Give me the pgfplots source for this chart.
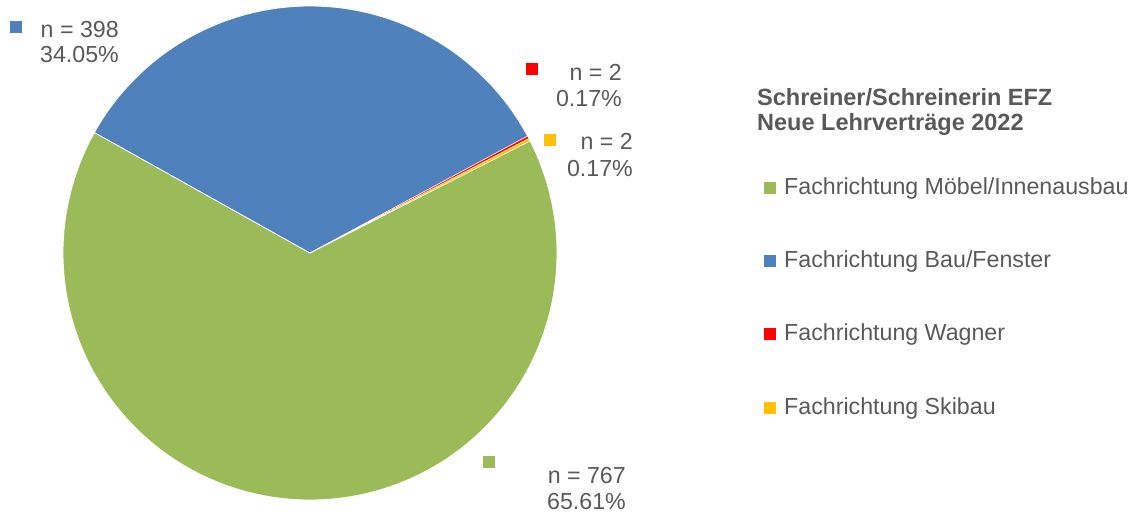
\documentclass[border=0pt]{standalone}
\usepackage{pgfplots}
\pgfplotsset{compat=1.18}
\usepackage{fontspec}
\setmainfont{Liberation Sans}
\definecolor{cgreen}{HTML}{9BBB59}
\definecolor{cblue}{HTML}{4F81BD}
\definecolor{cred}{HTML}{FF0000}
\definecolor{cyellow}{HTML}{FFC000}
\definecolor{txt}{HTML}{595959}
% counts
\def\nMoebel{767}
\def\nBau{398}
\def\nWagner{2}
\def\nSki{2}
\pgfmathsetmacro{\total}{\nMoebel+\nBau+\nWagner+\nSki}
\pgfmathsetmacro{\aG}{\nMoebel/\total*360}
\pgfmathsetmacro{\aB}{\nBau/\total*360}
\pgfmathsetmacro{\aR}{\nWagner/\total*360}
\pgfmathsetmacro{\aY}{\nSki/\total*360}
\pgfmathsetmacro{\sY}{150.8-\aB-\aR-\aY}% end of green / start of yellow
\pgfmathsetmacro{\gA}{\sY-\aG}
\pgfmathsetmacro{\yB}{\sY+\aY}
\pgfmathsetmacro{\rB}{\yB+\aR}
\pgfmathsetmacro{\bB}{\rB+\aB}
\def\cx{310}\def\cy{266}\def\rr{247}
\begin{document}
\fontsize{23.2}{28}\selectfont
\begin{tikzpicture}[
  lbl/.style={text=txt, inner sep=0pt, font=\fontsize{23.2}{28}\selectfont},
  ttl/.style={text=txt, inner sep=0pt, font=\fontsize{23.5}{28}\selectfont\bfseries},
]
\begin{axis}[
  width=1141pt, height=519pt, scale only axis,
  xmin=0, xmax=1141, ymin=0, ymax=519,
  hide axis, clip=false,
]
\path (axis cs:0,0) rectangle (axis cs:1141,519);
\addplot[fill=cgreen, draw=white, line width=0.8pt, domain=\gA:\sY, samples=160, variable=\t]
  ({\cx+\rr*cos(\t)}, {\cy+\rr*sin(\t)}) -- (axis cs:\cx,\cy) -- cycle;
\addplot[fill=cblue, draw=white, line width=0.8pt, domain=\rB:\bB, samples=100, variable=\t]
  ({\cx+\rr*cos(\t)}, {\cy+\rr*sin(\t)}) -- (axis cs:\cx,\cy) -- cycle;
\addplot[fill=cred, draw=white, line width=0.4pt, domain=\yB:\rB, samples=3, variable=\t]
  ({\cx+\rr*cos(\t)}, {\cy+\rr*sin(\t)}) -- (axis cs:\cx,\cy) -- cycle;
\addplot[fill=cyellow, draw=white, line width=0.4pt, domain=\sY:\yB, samples=3, variable=\t]
  ({\cx+\rr*cos(\t)}, {\cy+\rr*sin(\t)}) -- (axis cs:\cx,\cy) -- cycle;
% data label keys
\addplot[only marks, mark=square*, mark size=5.5pt, color=cblue] coordinates {(16,492)};
\addplot[only marks, mark=square*, mark size=5.5pt, color=cred] coordinates {(532,450)};
\addplot[only marks, mark=square*, mark size=5.5pt, color=cyellow] coordinates {(550,379)};
\addplot[only marks, mark=square*, mark size=5.5pt, color=cgreen] coordinates {(489,57)};
% legend keys
\addplot[only marks, mark=square*, mark size=5.5pt, color=cgreen] coordinates {(770,331)};
\addplot[only marks, mark=square*, mark size=5.5pt, color=cblue] coordinates {(770,258)};
\addplot[only marks, mark=square*, mark size=5.5pt, color=cred] coordinates {(770,185)};
\addplot[only marks, mark=square*, mark size=5.5pt, color=cyellow] coordinates {(770,111)};
% data labels
\node[lbl, anchor=base east] at (axis cs:119,481) {n = 398};
\node[lbl, anchor=base east] at (axis cs:119,456) {34.05\%};
\node[lbl, anchor=base east] at (axis cs:622,438) {n = 2};
\node[lbl, anchor=base east] at (axis cs:622,412) {0.17\%};
\node[lbl, anchor=base east] at (axis cs:633,369) {n = 2};
\node[lbl, anchor=base east] at (axis cs:633,342) {0.17\%};
\node[lbl, anchor=base east] at (axis cs:626,35) {n = 767};
\node[lbl, anchor=base east] at (axis cs:626,9) {65.61\%};
% legend title
\node[ttl, anchor=base west] at (axis cs:757,413) {Schreiner/Schreinerin EFZ};
\node[ttl, anchor=base west] at (axis cs:757,388) {Neue Lehrverträge 2022};
% legend entries
\node[lbl, anchor=base west] at (axis cs:784,324) {Fachrichtung Möbel/Innenausbau};
\node[lbl, anchor=base west] at (axis cs:784,251) {Fachrichtung Bau/Fenster};
\node[lbl, anchor=base west] at (axis cs:784,178) {Fachrichtung Wagner};
\node[lbl, anchor=base west] at (axis cs:784,104) {Fachrichtung Skibau};
\end{axis}
\end{tikzpicture}
\end{document}
